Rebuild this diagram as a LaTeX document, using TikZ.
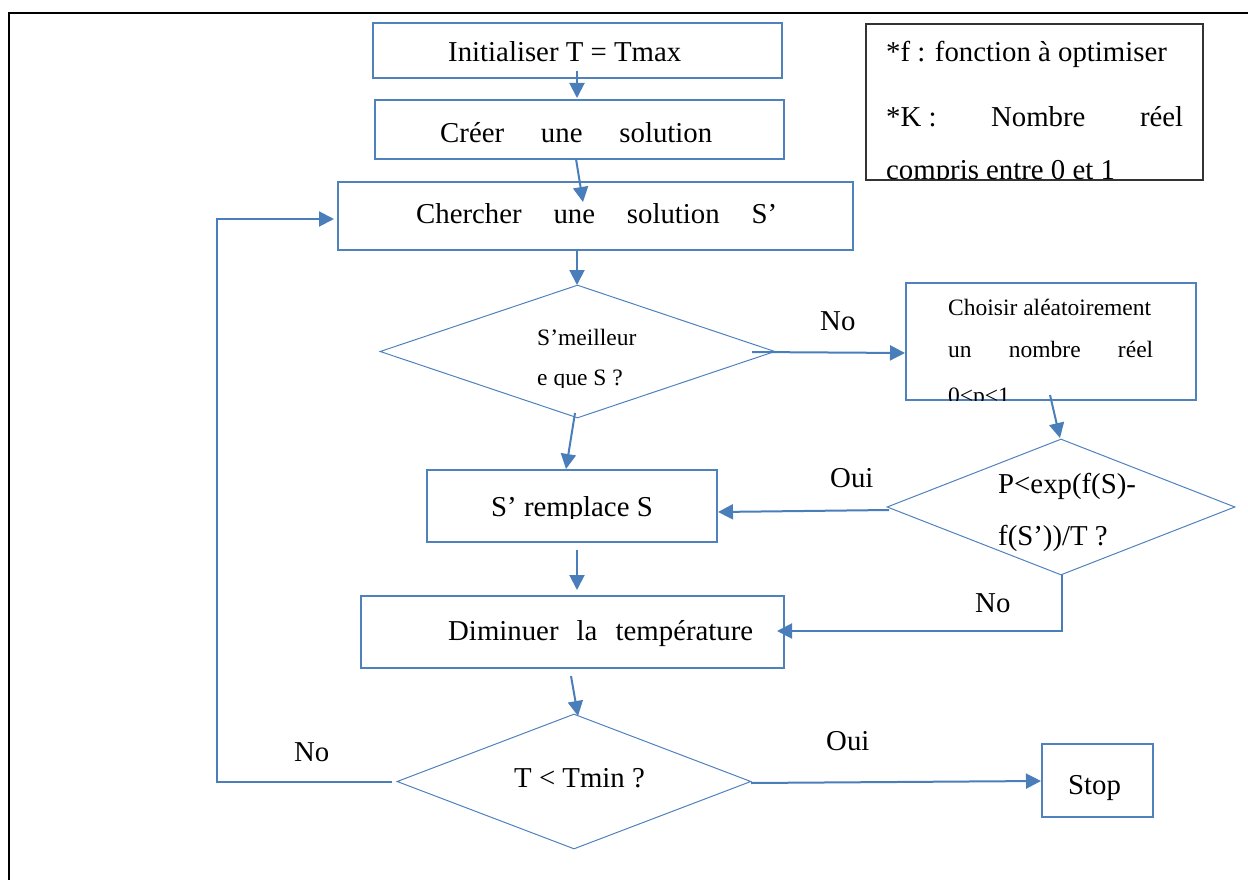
\documentclass[tikz,border=0pt]{standalone}
\usepackage{fontspec}
\setmainfont{Liberation Serif}
\usetikzlibrary{shapes.geometric,arrows.meta}
\definecolor{flowblue}{RGB}{74,126,187}
\definecolor{boxblue}{RGB}{79,129,189}
\newcommand{\bigsz}{\fontsize{28.8}{34}\selectfont}
\newcommand{\smallsz}{\fontsize{23.5}{28}\selectfont}
\tikzset{
  procbox/.style={draw=boxblue, line width=1.2pt, rectangle, inner sep=0pt},
  decbox/.style={draw=boxblue, line width=1pt, diamond, inner sep=0pt},
  notebox/.style={draw=black!80, line width=1.3pt, rectangle, inner sep=0pt},
  txt/.style={inner sep=0pt, anchor=base west, font=\bigsz},
  stxt/.style={inner sep=0pt, anchor=base west, font=\smallsz},
  arr/.style={draw=flowblue, line width=2pt, -{Triangle[length=15pt,width=15pt]}},
}
\begin{document}
\begin{tikzpicture}[x=1pt, y=-1pt]
\useasboundingbox (0,0) rectangle (1248,880);

% page frame (top and left rules)
\draw[black, line width=1.6pt] (9,880) -- (9,13) -- (1248,13);

% process boxes
\node[procbox, minimum width=409pt, minimum height=55pt] (init) at (577.5,50.5) {};
\node[procbox, minimum width=409pt, minimum height=59pt] (creer) at (579.5,129.5) {};
\node[procbox, minimum width=515pt, minimum height=68pt] (cherch) at (595.5,216) {};
\node[procbox, minimum width=290pt, minimum height=117pt] (choix) at (1051,341.5) {};
\node[procbox, minimum width=290pt, minimum height=72pt] (rempl) at (572,506) {};
\node[procbox, minimum width=423pt, minimum height=72pt] (dimin) at (572.5,632) {};
\node[procbox, minimum width=111pt, minimum height=73pt] (stop) at (1097.5,780.5) {};
\node[notebox, minimum width=337pt, minimum height=156pt] (note) at (1034.5,102) {};

% decision diamonds
\node[decbox, minimum width=395pt, minimum height=133pt] (d1) at (577.5,351.5) {};
\node[decbox, minimum width=348pt, minimum height=136pt] (d2) at (1061,507) {};
\node[decbox, minimum width=354pt, minimum height=135pt] (d3) at (574,781.5) {};

% texts in boxes
\node[txt] (tinit) at (448,62) {Initialiser T = Tmax};
\node[txt] (tcreer) at (440,143) {\makebox[272pt][s]{Créer une solution}};
\node[txt] (tcherch) at (416,223) {\makebox[361pt][s]{Chercher une solution S’}};
\node[txt] (tdimin) at (448,640) {\makebox[305pt][s]{Diminuer la température}};
\node[txt] (tstop) at (1068,794) {Stop};
\node[txt] (td3) at (514,787) {T < Tmin ?};
\node[txt] (td2a) at (998,493) {P<exp(f(S)-};
\node[txt] (td2b) at (998,545) {f(S’))/T ?};
\node[txt] (tnote1) at (886,62) {*f : fonction à optimiser};
\node[txt] (tnote2) at (886,127) {\makebox[297pt][s]{\mbox{*K :} Nombre réel}};
\node[stxt] (tchoix1) at (948,315) {Choisir aléatoirement};
\node[stxt] (tchoix2) at (948,357) {\makebox[205pt][s]{un nombre réel}};
\node[stxt] (td1a) at (537,345) {S’meilleur};

% texts cut off by the lower edge of their frames
\begin{scope}
  \clip (420,470) rectangle (720,518);
  \node[txt] (trempl) at (491,516) {S’ remplace S};
\end{scope}
\begin{scope}
  \clip (500,360) rectangle (700,387);
  \node[stxt] (td1b) at (537,385) {e que S ?};
\end{scope}
\begin{scope}
  \clip (906,380) rectangle (1196,400);
  \node[stxt] (tchoix3) at (948,403) {0<p<1};
\end{scope}
\begin{scope}
  \clip (866,140) rectangle (1203,180);
  \node[txt] (tnote3) at (886,179) {compris entre 0 et 1};
\end{scope}

% branch labels
\node[txt] (lno1) at (820,330) {No};
\node[txt] (loui1) at (830,487) {Oui};
\node[txt] (lno2) at (975,612) {No};
\node[txt] (lno3) at (294,761) {No};
\node[txt] (loui2) at (826,750) {Oui};

% connector end points
\coordinate (a1s) at (577,71);   \coordinate (a1e) at (577,98);
\coordinate (a2s) at (576,159);  \coordinate (a2e) at (583,202);
\coordinate (a3s) at (577,250);  \coordinate (a3e) at (577,285);
\coordinate (a4s) at (752,352);  \coordinate (a4e) at (905,353);
\coordinate (a5s) at (575,413);  \coordinate (a5e) at (566,469);
\coordinate (a6s) at (1050,395); \coordinate (a6e) at (1060,438);
\coordinate (a7s) at (889,510);  \coordinate (a7e) at (718,512);
\coordinate (a8s) at (1062,575); \coordinate (a8k) at (1062,631); \coordinate (a8e) at (777,631);
\coordinate (a9s) at (577,550);  \coordinate (a9e) at (577,590);
\coordinate (a10s) at (571,676); \coordinate (a10e) at (578,716);
\coordinate (a11s) at (751,783); \coordinate (a11e) at (1041,781);
\coordinate (a12s) at (392,782); \coordinate (a12k1) at (217,782);
\coordinate (a12k2) at (217,219); \coordinate (a12e) at (334,219);

% connectors
\draw[arr] (a1s) -- (a1e);
\draw[arr] (a2s) -- (a2e);
\draw[arr] (a3s) -- (a3e);
\draw[arr] (a4s) -- (a4e);
\draw[arr] (a5s) -- (a5e);
\draw[arr] (a6s) -- (a6e);
\draw[arr] (a7s) -- (a7e);
\draw[arr] (a8s) -- (a8k) -- (a8e);
\draw[arr] (a9s) -- (a9e);
\draw[arr] (a10s) -- (a10e);
\draw[arr] (a11s) -- (a11e);
\draw[arr] (a12s) -- (a12k1) -- (a12k2) -- (a12e);
\end{tikzpicture}
\end{document}
